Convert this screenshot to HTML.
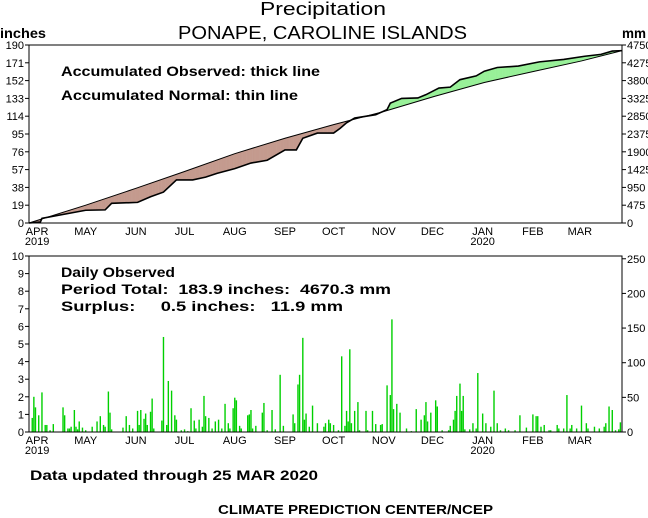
<!DOCTYPE html>
<html><head><meta charset="utf-8"><style>
body{margin:0;background:#fff;}
svg{display:block;font-family:"Liberation Sans",sans-serif;}
text{white-space:pre;}
.t{font-size:11px;fill:#000;}
.b{font-weight:bold;fill:#000;}
</style></head><body>
<svg id="c" width="648" height="518" viewBox="0 0 648 518" xml:space="preserve">
<text x="260" y="15" textLength="126" lengthAdjust="spacingAndGlyphs" font-size="18">Precipitation</text>
<text x="178" y="39" textLength="289" lengthAdjust="spacingAndGlyphs" font-size="18">PONAPE, CAROLINE ISLANDS</text>
<text x="0" y="38" font-size="14" class="b" textLength="46" lengthAdjust="spacingAndGlyphs">inches</text>
<text x="622" y="38" font-size="14" class="b" textLength="24" lengthAdjust="spacingAndGlyphs">mm</text>
<text x="61" y="76" font-size="14" class="b" textLength="259" lengthAdjust="spacingAndGlyphs">Accumulated Observed: thick line</text>
<text x="61" y="100" font-size="14" class="b" textLength="237" lengthAdjust="spacingAndGlyphs">Accumulated Normal: thin line</text>
<text x="61" y="277" font-size="14" class="b" textLength="114" lengthAdjust="spacingAndGlyphs">Daily Observed</text>
<text x="61" y="294" font-size="14" class="b" textLength="330" lengthAdjust="spacingAndGlyphs">Period Total:  183.9 inches:  4670.3 mm</text>
<text x="61" y="311" font-size="14" class="b" textLength="282" lengthAdjust="spacingAndGlyphs">Surplus:     0.5 inches:   11.9 mm</text>
<text x="30" y="480" font-size="14" class="b" textLength="288" lengthAdjust="spacingAndGlyphs">Data updated through 25 MAR 2020</text>
<text x="218" y="514" font-size="13" class="b" textLength="275" lengthAdjust="spacingAndGlyphs">CLIMATE PREDICTION CENTER/NCEP</text>
<g id="topg"></g><g id="botg"></g>
</svg>
<script>
const monthLabels=["APR","MAY","JUN","JUL","AUG","SEP","OCT","NOV","DEC","JAN","FEB","MAR"];
const monthStartDays=[5,35,66,96,127,158,188,219,249,280,311,340];
const topTicks=[0,19,38,57,76,95,114,133,152,171,190];
const topMmTicks=[0,475,950,1425,1900,2375,2850,3325,3800,4275,4750];
const botTicks=[0,1,2,3,4,5,6,7,8,9,10];
const botMmTicks=[0,50,100,150,200,250];
const normalDays=[0,35,66,96,127,158,188,219,250,281,312,341,366];
const normalCum=[0,19,37,55,74,90.5,105,119,135,150,162,173,184];
const obsDays=[0,7,8,35,47,51,67,75,83,91,101,109,116,127,137,147,158,165,169,178,188,192,196,201,214,221,223,230,240,245,253,260,266,276,281,289,302,315,330,343,353,360,366];
const obsCum=[0,1,5,13.6,14,21,22,28,33,46,46,49,53,58,64,67,78,78,90.5,96,96,101,107,112,115.6,121,128,133,133.5,137,144,145,153,157,162,166,167.5,172,174.6,178,180,183.5,184];
const rainDays=[2,3,4,6,8,10,11,13,15,21,22,24,25,26,28,29,30,31,33,35,39,42,44,46,47,49,50,51,58,60,62,64,67,68,69,71,72,73,75,76,77,82,83,85,86,88,90,91,94,96,98,100,102,103,105,107,108,109,111,113,115,117,119,121,123,124,126,127,128,130,131,135,136,137,138,140,144,145,147,150,152,155,157,163,164,166,167,169,170,171,173,175,178,182,183,185,186,188,191,193,195,196,197,198,199,201,203,204,208,209,212,214,217,218,221,223,224,225,227,229,233,236,239,242,244,245,246,248,251,252,255,259,260,262,263,264,266,267,268,269,272,274,276,277,280,282,285,287,289,291,294,296,300,303,307,311,313,314,316,318,321,322,326,327,330,332,334,335,338,341,344,345,349,352,355,356,358,360,362,364,365];
const rainInches=[0.8,2.0,1.4,0.95,2.25,0.4,0.4,0.1,0.45,1.4,0.95,0.2,0.2,0.3,1.25,0.3,0.15,0.6,0.25,0.1,0.3,0.6,0.9,0.4,0.3,2.3,1.1,0.15,0.25,0.9,0.4,0.2,1.2,0.4,1.25,0.75,1.05,0.4,1.15,1.9,0.2,0.65,5.4,0.4,2.9,2.35,0.95,0.7,0.1,0.15,0.05,1.35,0.65,0.2,0.7,0.3,2.05,0.9,0.8,0.2,0.6,0.7,0.2,1.6,0.5,0.2,1.35,1.95,1.8,0.35,0.2,0.95,1.0,1.25,0.2,0.35,1.1,1.65,0.1,1.25,0.15,3.25,0.35,1.0,0.5,2.7,3.25,5.35,0.7,1.05,0.3,1.5,0.5,0.3,0.5,0.7,0.5,0.4,0.1,4.3,0.35,1.2,0.6,4.7,0.5,1.2,1.7,0.1,1.2,0.1,1.2,0.45,0.4,0.45,2.65,2.1,6.4,1.3,1.6,1.1,0.2,0.05,1.3,0.7,0.95,1.7,0.6,1.1,1.8,1.45,0.1,0.1,0.35,0.7,1.2,2.05,2.75,1.2,2.05,0.15,0.15,0.5,0.2,3.35,1.05,0.5,0.3,2.35,0.5,0.1,0.2,0.1,0.1,0.95,0.25,1.0,0.9,0.9,0.3,0.4,0.1,0.1,0.4,0.2,0.2,2.1,0.2,0.4,0.2,1.5,0.5,0.2,0.3,0.2,0.3,0.5,1.45,1.25,0.1,0.15,0.55];

const NS="http://www.w3.org/2000/svg";
const X0=29,X1=622,ND=366;
const xd=d=>X0+d*(X1-X0)/ND;
const yTop=v=>223-v*(223-45)/190;
const yBot=v=>432-v*(432-256)/10;
function mk(p,tag,at){const e=document.createElementNS(NS,tag);for(const k in at)e.setAttribute(k,at[k]);p.appendChild(e);return e;}
function interp(ds,vs,d){for(let i=1;i<ds.length;i++){if(d<=ds[i]){const t=(d-ds[i-1])/(ds[i]-ds[i-1]);return vs[i-1]+t*(vs[i]-vs[i-1]);}}return vs[vs.length-1];}
const gTop=document.getElementById('topg'),gBot=document.getElementById('botg');

for(let d=0;d<ND;d++){
 const o0=interp(obsDays,obsCum,d),o1=interp(obsDays,obsCum,d+1);
 const n0=interp(normalDays,normalCum,d),n1=interp(normalDays,normalCum,d+1);
 const f=mk(gTop,'polygon',{points:`${xd(d)},${yTop(o0)} ${xd(d+1)},${yTop(o1)} ${xd(d+1)},${yTop(n1)} ${xd(d)},${yTop(n0)}`,fill:(o0+o1>=n0+n1)?'#98f098':'#c49a8e',stroke:(o0+o1>=n0+n1)?'#98f098':'#c49a8e','stroke-width':0.4});
 
 
}
let np=normalDays.map((d,i)=>xd(d)+','+yTop(normalCum[i])).join(' ');
const nl=mk(gTop,'polyline',{points:np,fill:'none',stroke:'#000','stroke-width':1});


let op=obsDays.map((d,i)=>xd(d)+','+yTop(obsCum[i])).join(' ');
const ol=mk(gTop,'polyline',{points:op,fill:'none',stroke:'#000','stroke-width':1.6});



function frame(g,yT,yB,ticks,yf,mmTicks,yMm,nm){
 const r=mk(g,'path',{d:`M${X0},${yB}V${yT}H${X1}V${yB}M${X0},${yB}H${X1}`,fill:'none',stroke:'#000','stroke-width':1});
 
 
 ticks.forEach(v=>{const y=yf(v);mk(g,'line',{x1:X0-4,x2:X0,y1:y,y2:y,stroke:'#000'});
  const t=mk(g,'text',{x:X0-5,y:y+4,'text-anchor':'end',class:'t'});t.textContent=v;
  
  });
 mmTicks.forEach(v=>{const y=yMm(v);mk(g,'line',{x1:X1,x2:X1+4,y1:y,y2:y,stroke:'#000'});
  const t=mk(g,'text',{x:X1+5,y:y+4,class:'t'});t.textContent=v;
  
  });
 monthLabels.forEach((m,i)=>{const x=xd(monthStartDays[i]);
  const t=mk(g,'text',{x:x,y:yB+12,'text-anchor':'middle',class:'t'});t.textContent=m;
  
  
  if(m==='APR'||m==='JAN'){const y=mk(g,'text',{x:x,y:yB+22,'text-anchor':'middle',class:'t'});y.textContent=m==='APR'?'2019':'2020';
   
   }});
}
frame(gTop,45,223,topTicks,yTop,topMmTicks,v=>yTop(v/25),'top-chart');

rainDays.forEach((d,i)=>{const v=rainInches[i];
 const b=mk(gBot,'rect',{x:xd(d)-0.7,y:yBot(v),width:1.4,height:432-yBot(v),fill:'#00d000'});
 
 });
frame(gBot,256,432,botTicks,yBot,botMmTicks,v=>yBot(v/25.4),'bottom-chart');
</script>
</body></html>
